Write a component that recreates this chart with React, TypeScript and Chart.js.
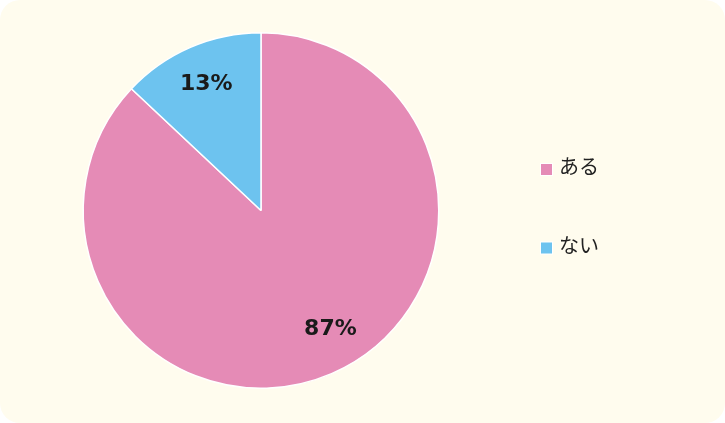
import React, { useEffect, useRef } from "react";
import { Chart, registerables } from "chart.js";

Chart.register(...registerables);

const categories = ["ある", "ない"];
const values = [87, 13];
const valueLabels = ["87%", "13%"];
const colors = ["#E58BB6", "#6DC3EF"];

const labelAngleShift = [-0.12, 0];

const labelPlugin = {
  id: "sliceLabels",
  afterDatasetsDraw(chart: any) {
    const ctx = chart.ctx;
    const meta = chart.getDatasetMeta(0);
    ctx.save();
    ctx.font = "bold 22px 'DejaVu Sans', Verdana, sans-serif";
    ctx.fillStyle = "#1a1a1a";
    ctx.textAlign = "center";
    ctx.textBaseline = "middle";
    meta.data.forEach((arc: any, i: number) => {
      const { x, y, startAngle, endAngle, outerRadius } = arc.getProps(
        ["x", "y", "startAngle", "endAngle", "outerRadius"],
        true
      );
      const mid = (startAngle + endAngle) / 2 + labelAngleShift[i];
      const r = outerRadius * 0.775;
      ctx.fillText(valueLabels[i], x + Math.cos(mid) * r, y + Math.sin(mid) * r);
    });
    ctx.restore();
  },
};

const legendPlugin = {
  id: "customLegend",
  afterDraw(chart: any) {
    const ctx = chart.ctx;
    ctx.save();
    const x0 = 540;
    const ys = [169.5, 248];
    categories.forEach((c, i) => {
      const y = ys[i];
      ctx.fillStyle = "#ffffff";
      ctx.fillRect(x0, y - 6.5, 13, 13);
      ctx.fillStyle = colors[i];
      ctx.fillRect(x0 + 1, y - 5.5, 11, 11);
      ctx.fillStyle = "#222222";
      ctx.font = "20px 'Noto Sans CJK JP', sans-serif";
      ctx.textAlign = "left";
      ctx.textBaseline = "middle";
      ctx.fillText(c, 559, y - 3);
    });
    ctx.restore();
  },
};

export default function App() {
  const ref = useRef<HTMLCanvasElement>(null);
  useEffect(() => {
    document.body.style.margin = "0";
    const chart = new Chart(ref.current as HTMLCanvasElement, {
      type: "pie",
      data: {
        labels: categories,
        datasets: [
          {
            data: values,
            backgroundColor: colors,
            borderColor: "#ffffff",
            borderWidth: 1.5,
          },
        ],
      },
      options: {
        animation: false,
        responsive: false,
        layout: { padding: { top: 32, bottom: 34, left: 82, right: 285 } },
        plugins: {
          legend: { display: false },
          tooltip: { enabled: false },
        },
      },
      plugins: [labelPlugin, legendPlugin],
    });
    return () => chart.destroy();
  }, []);
  return (
    <div
      style={{
        position: "absolute",
        left: 0,
        top: 0,
        width: 725,
        height: 423,
        background: "#FFFCEE",
        borderRadius: 20,
        overflow: "hidden",
      }}
    >
      <canvas ref={ref} width={725} height={423} style={{ display: "block" }} />
    </div>
  );
}
